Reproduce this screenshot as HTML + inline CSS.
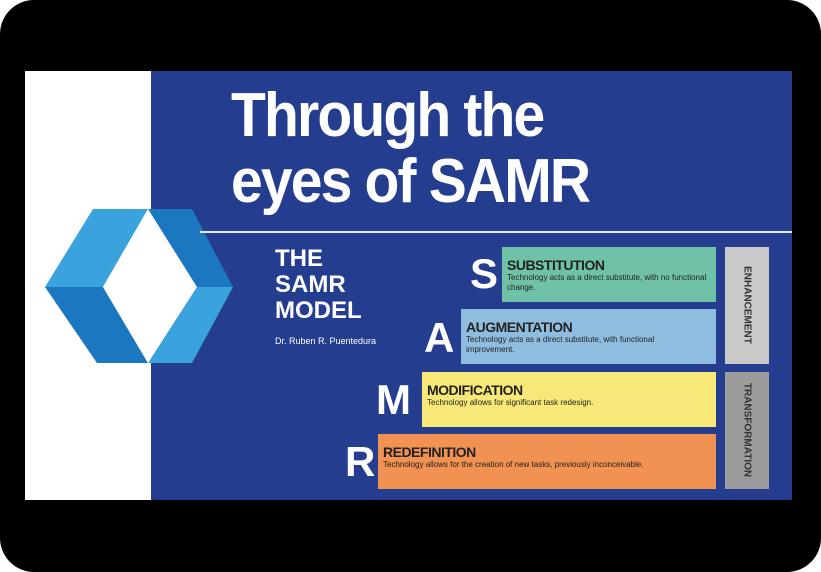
<!DOCTYPE html><html><head><style>
body{margin:0;width:821px;height:572px;background:#fff;overflow:hidden;font-family:"Liberation Sans",sans-serif}
.frame{position:absolute;left:0;top:0;width:821px;height:572px;background:#000;border-radius:34px}
.white{position:absolute;left:25px;top:71px;width:126px;height:429px;background:#fff}
.blue{position:absolute;left:151px;top:71px;width:641px;height:429px;background:#243d8f}
.t{position:absolute;color:#fff;font-weight:bold;white-space:nowrap}
.box{position:absolute;height:55px;color:#222}
.box b{display:block;font-size:14px;margin:10px 0 0 5px;letter-spacing:-0.5px}
.box span{display:block;font-size:8px;margin-left:5px;line-height:10px;width:210px}
.L{position:absolute;color:#fff;font-weight:bold;font-size:42px}
.side{position:absolute;left:725px;width:44px;height:117px}
.side div{position:absolute;left:22px;top:58px;transform:translate(-50%,-50%) rotate(90deg);font-size:10px;font-weight:bold;color:#333;white-space:nowrap}
</style></head><body>
<div class="frame"></div><div class="white"></div><div class="blue"></div>
<svg style="position:absolute;left:0;top:0" width="821" height="572">
<polygon points="45,287 93,209 148,209 103,287" fill="#3aa3de"/>
<polygon points="148,209 192,209 233,287 197,287" fill="#1b78c0"/>
<polygon points="45,287 103,287 148,363 97,363" fill="#1b78c0"/>
<polygon points="197,287 233,287 192,363 148,363" fill="#3aa3de"/>
<polygon points="148,209 197,287 148,363 103,287" fill="#fff"/>
<line x1="200" y1="232" x2="792" y2="232" stroke="#e8ecf5" stroke-width="2"/>
</svg>
<div class="t" style="left:231px;top:80px;font-size:62px;letter-spacing:-2px;transform:scaleX(0.92);transform-origin:left">Through the</div>
<div class="t" style="left:231px;top:146px;font-size:62px;letter-spacing:-2px;transform:scaleX(0.92);transform-origin:left">eyes of SAMR</div>
<div class="t" style="left:275px;top:246px;font-size:24px;line-height:26px">THE<br>SAMR<br>MODEL</div>
<div class="t" style="left:275px;top:336px;font-size:9px;font-weight:normal">Dr. Ruben R. Puentedura</div>
<div class="box" style="left:502px;top:247px;width:214px;background:#6fc2a7"><b>SUBSTITUTION</b><span>Technology acts as a direct substitute, with no functional change.</span></div>
<div class="box" style="left:461px;top:309px;width:255px;background:#8fbde0"><b>AUGMENTATION</b><span>Technology acts as a direct substitute, with functional improvement.</span></div>
<div class="box" style="left:422px;top:372px;width:294px;background:#f8e878"><b>MODIFICATION</b><span style="width:280px">Technology allows for significant task redesign.</span></div>
<div class="box" style="left:378px;top:434px;width:338px;background:#f19152"><b>REDEFINITION</b><span style="width:330px">Technology allows for the creation of new tasks, previously inconceivable.</span></div>
<div class="L" style="left:470px;top:250px">S</div>
<div class="L" style="left:424px;top:314px">A</div>
<div class="L" style="left:376px;top:376px">M</div>
<div class="L" style="left:345px;top:438px">R</div>
<div class="side" style="top:247px;background:#c9c9c9"><div>ENHANCEMENT</div></div>
<div class="side" style="top:372px;background:#9c9c9c"><div>TRANSFORMATION</div></div>
</body></html>
